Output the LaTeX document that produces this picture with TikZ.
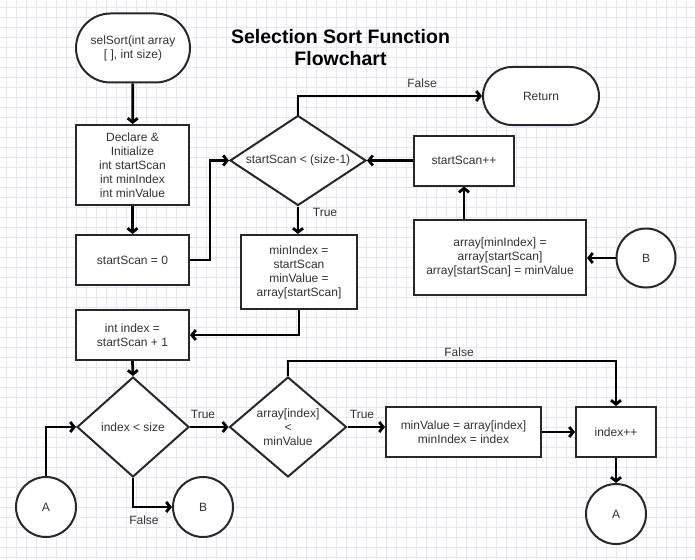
\documentclass[tikz,border=0pt]{standalone}
\usepackage{fontspec}
\setmainfont{Liberation Sans}
\usetikzlibrary{shapes.geometric,shapes.misc,arrows.meta}
\definecolor{gridc}{RGB}{228,228,250}
\definecolor{txt}{RGB}{51,51,51}
\definecolor{edge}{RGB}{40,40,40}
\begin{document}
\begin{tikzpicture}[x=1pt,y=-1pt,
  font=\fontsize{12}{14}\selectfont,
  shp/.style={draw=edge, line width=2pt, fill=white, text=txt, align=center, inner sep=0pt},
  box/.style={shp, rectangle},
  term/.style={shp, rounded rectangle},
  dec/.style={shp, diamond},
  conn/.style={circle, shp},
  lbl/.style={text=txt, inner sep=0pt},
  inlbl/.style={text=txt, inner sep=0pt, align=center},
  arr/.style={line width=2.8pt, black, -{Straight Barb[length=4pt,width=10pt]}},
  ttl/.style={font=\fontsize{19.5}{22}\selectfont\bfseries, align=center, inner sep=0pt}
]
\fill[white] (0,0) rectangle (695,559);
\useasboundingbox (0,0) rectangle (695,559);
\foreach \x in {6,16,...,694} \draw[gridc, line width=0.8pt] (\x,0) -- (\x,559);
\foreach \y in {7,17,...,557} \draw[gridc, line width=0.8pt] (0,\y) -- (695,\y);

% title
\node[ttl] (title) at (340.5,48) {Selection Sort Function\\Flowchart};

% nodes
\node[term, minimum width=114pt, minimum height=69pt] (start) at (133,48) {selSort(int array\\{}[ ], int size)};
\node[box, minimum width=113pt, minimum height=80pt] (decl) at (132.5,165) {Declare \&\\Initialize\\int startScan\\int minIndex\\int minValue};
\node[box, minimum width=113pt, minimum height=50pt] (s0) at (132.5,260) {startScan = 0};
\node[dec, minimum width=136pt, minimum height=90pt,
      label={[inlbl]center:startScan < (size-1)}] (d1) at (298,160.5) {};
\node[term, minimum width=116pt, minimum height=58pt] (ret) at (541,96) {Return};
\node[box, minimum width=100pt, minimum height=50pt] (inc) at (464,160.5) {startScan++};
\node[box, minimum width=172pt, minimum height=75pt] (swap) at (500,257.5) {array[minIndex] =\\array[startScan]\\array[startScan] = minValue};
\node[conn, minimum size=59pt] (B2) at (646,258) {B};
\node[box, minimum width=116pt, minimum height=74pt] (mi) at (299,272) {minIndex =\\startScan\\minValue =\\array[startScan]};
\node[box, minimum width=113pt, minimum height=50pt] (ii) at (132.5,335) {int index =\\startScan + 1};
\node[dec, minimum width=112pt, minimum height=100pt,
      label={[inlbl]center:index < size}] (d2) at (133,427) {};
\node[dec, minimum width=117pt, minimum height=100pt,
      label={[inlbl]center:{array[index]\\<\\minValue}}] (d3) at (288,427) {};
\node[box, minimum width=155pt, minimum height=50pt] (mv) at (463.5,432) {minValue = array[index]\\minIndex = index};
\node[box, minimum width=80pt, minimum height=50pt] (inc2) at (616,432) {index++};
\node[conn, minimum size=60pt] (A2) at (616,514) {A};
\node[conn, minimum size=60pt] (A1) at (46,507) {A};
\node[conn, minimum size=60pt] (B1) at (203,507) {B};

% connectors
\draw[arr] (start) -- (decl);
\draw[arr] (decl) -- (s0);
\draw[arr] (s0.east) -- ++(20,0) |- (d1.west);
\draw[arr] (d1.north) |- (ret.west);
\draw[arr] (inc.west) -- (d1.east);
\draw[arr] (swap.north -| inc.south) -- (inc.south);
\draw[arr] (B2.west) -- (B2.west -| swap.east);
\draw[arr] (d1.south) -- (d1.south |- mi.north);
\draw[arr] (mi.south) |- (ii.east);
\draw[arr] (ii.south) -- (d2.north);
\draw[arr] (d2.east) -- (d3.west);
\draw[arr] (d3.north) -- ++(0,-15) -| (inc2.north);
\draw[arr] (d3.east) -- (d3.east -| mv.west);
\draw[arr] (mv.east) -- (inc2.west);
\draw[arr] (inc2.south) -- (A2.north);
\draw[arr] (A1.north) |- (d2.west);
\draw[arr] (d2.south) |- (B1.west);

% labels
\node[lbl] (lf1) at (422,83) {False};
\node[lbl] (lt1) at (325,212.5) {True};
\node[lbl] (lt2) at (203,414.5) {True};
\node[lbl] (lt3) at (362,414.5) {True};
\node[lbl] (lf2) at (459,352.5) {False};
\node[lbl] (lf3) at (144,520.5) {False};
\end{tikzpicture}
\end{document}
